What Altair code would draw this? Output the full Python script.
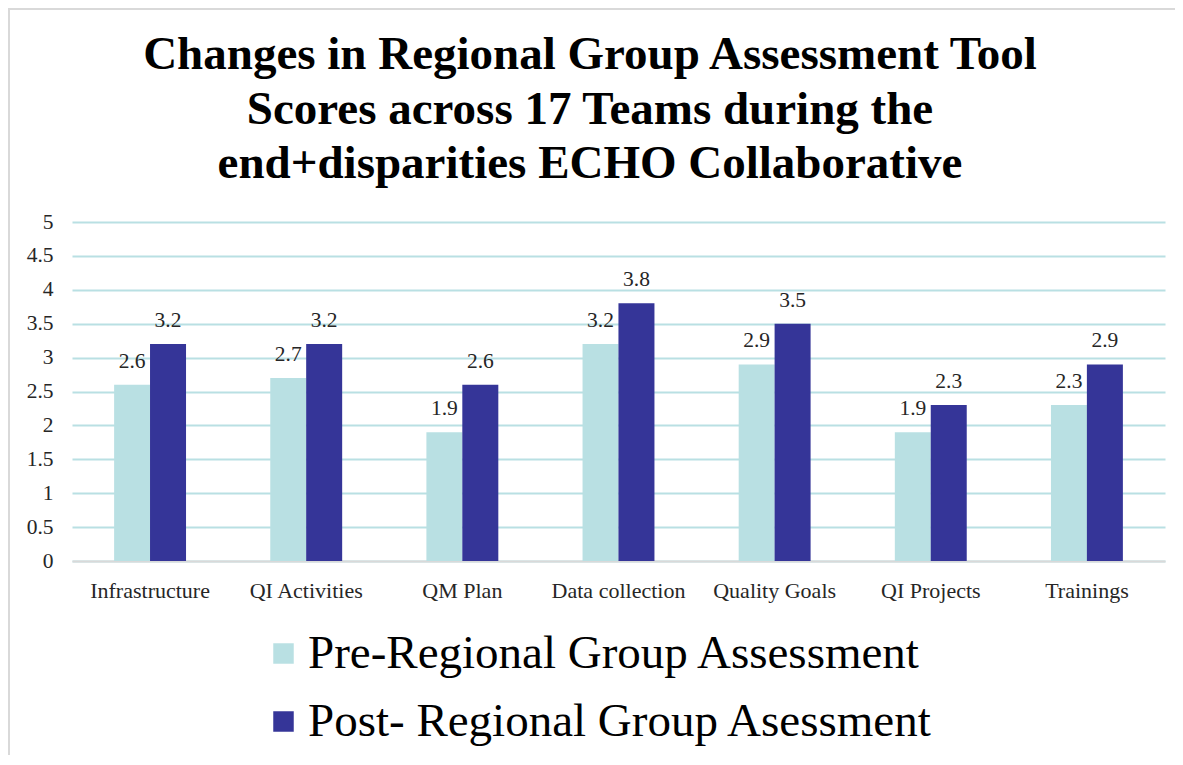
import altair as alt
import pandas as pd

categories = ["Infrastructure", "QI Activities", "QM Plan", "Data collection",
              "Quality Goals", "QI Projects", "Trainings"]
pre_values = [2.6, 2.7, 1.9, 3.2, 2.9, 1.9, 2.3]
post_values = [3.2, 3.2, 2.6, 3.8, 3.5, 2.3, 2.9]
series = ["Pre-Regional Group Assessment", "Post- Regional Group Asessment"]
colors = ["#b9e0e3", "#353598"]
y_ticks = [0, 0.5, 1, 1.5, 2, 2.5, 3, 3.5, 4, 4.5, 5]
title_lines = ["Changes in Regional Group Assessment Tool",
               "Scores across 17 Teams during the",
               "end+disparities ECHO Collaborative"]

rows = []
for c, a, b in zip(categories, pre_values, post_values):
    rows.append({"category": c, "series": series[0], "value": a})
    rows.append({"category": c, "series": series[1], "value": b})
df = pd.DataFrame(rows)
title_df = pd.DataFrame({"t": ["\n".join(title_lines)]})

FONT = "Liberation Serif"
SMALL = 21.5

x = alt.X("category:N", sort=categories,
          scale=alt.Scale(paddingInner=0.54, paddingOuter=0.27),
          axis=alt.Axis(title=None, labelAngle=0, labelFontSize=22, labelFont=FONT,
                        labelColor="#262626", labelPadding=19, ticks=False,
                        domainColor="#d9d9d9", domainWidth=2, grid=False))
xo = alt.XOffset("series:N", sort=series, scale=alt.Scale(paddingInner=0, paddingOuter=0))
y = alt.Y("value:Q", scale=alt.Scale(domain=[0, 5], nice=False),
          axis=alt.Axis(title=None, values=y_ticks, format="~g", labelFontSize=SMALL,
                        labelFont=FONT, labelColor="#262626", labelPadding=19,
                        ticks=False, domain=False,
                        grid=True, gridColor="#b9e0e3", gridWidth=2))
color = alt.Color("series:N", sort=series,
                  scale=alt.Scale(domain=series, range=colors),
                  legend=alt.Legend(title=None, orient="none", legendX=188, legendY=408,
                                    direction="vertical", labelFontSize=47, labelFont=FONT,
                                    labelColor="#000000", symbolType="square",
                                    symbolSize=420, symbolStrokeWidth=0, rowPadding=20,
                                    labelOffset=1, labelLimit=1000))

base = alt.Chart(df)
bars = base.mark_bar(size=36).encode(x=x, xOffset=xo, y=y, color=color)
labels = base.mark_text(baseline="alphabetic", dy=-17, fontSize=SMALL, font=FONT,
                        color="#262626").encode(
    x=x, xOffset=xo, y=y, text=alt.Text("value:Q", format=".1f"))

title = alt.Chart(title_df).mark_text(
    align="center", baseline="alphabetic", lineBreak="\n", lineHeight=54.5,
    font=FONT, fontSize=47, fontWeight="bold", color="#000000").encode(
    x=alt.value(518), y=alt.value(-153), text="t:N")

frame_left = alt.Chart(title_df).mark_rule(color="#d9d9d9", strokeWidth=2).encode(
    x=alt.value(-63), y=alt.value(-214), y2=alt.value(540))
frame_top = alt.Chart(title_df).mark_rule(color="#d9d9d9", strokeWidth=2).encode(
    x=alt.value(-64), x2=alt.value(1120), y=alt.value(-213))

chart = alt.layer(bars, labels, title, frame_left, frame_top).properties(
    width=1093, height=339,
    autosize=alt.AutoSizeParams(type="none"),
    padding={"left": 64, "top": 214, "right": 10, "bottom": 194},
).configure_view(stroke=None)

chart.save("out.html", embed_options={"renderer": "svg", "actions": False})
